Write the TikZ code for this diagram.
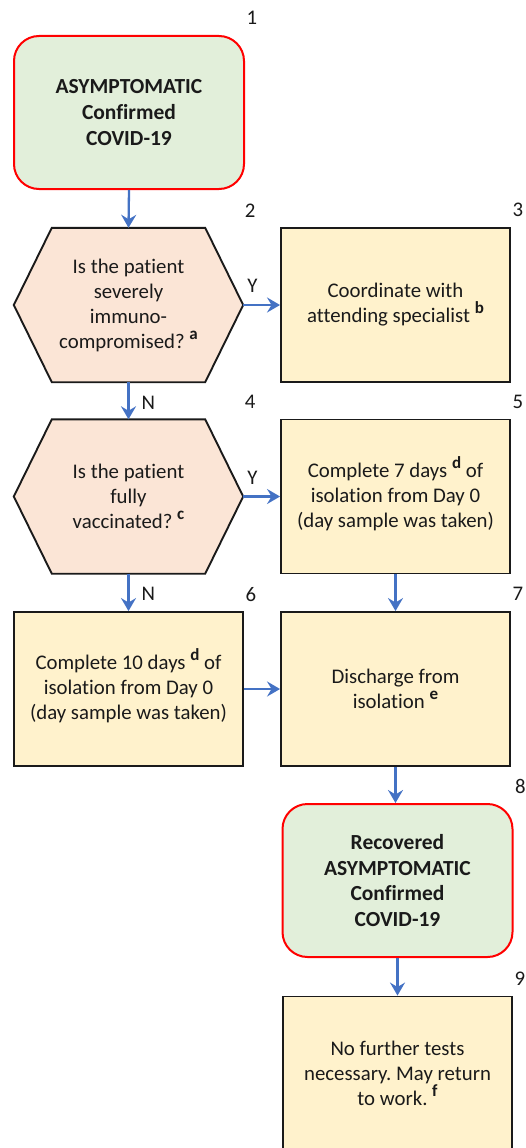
\documentclass[tikz,border=0pt]{standalone}
\usepackage{fontspec}
\setmainfont{Carlito}[Ligatures={NoCommon}]
\usetikzlibrary{arrows.meta,calc,backgrounds}
\definecolor{arrblue}{HTML}{4472C4}
\definecolor{startfill}{HTML}{E2EFDA}
\definecolor{askfill}{HTML}{FBE5D6}
\definecolor{stepfill}{HTML}{FFF2CC}
\definecolor{ink}{HTML}{1A1A1A}
\frenchspacing
% raised bold note letter
\newcommand\fnmark[1]{\smash{\raisebox{9pt}{\fontsize{17}{17}\selectfont\bfseries #1}}}

\begin{document}
\begin{tikzpicture}[x=1pt,y=-1pt,
  every node/.style={font=\fontsize{20.8}{25}\selectfont, text=ink},
  terminal/.style={draw=red, line width=2pt, fill=startfill, rounded corners=25pt,
    minimum width=230pt, minimum height=153pt, align=center,
    font=\fontsize{21.5}{25.7}\selectfont\bfseries},
  stepbox/.style={draw=ink, line width=1.9pt, fill=stepfill,
    minimum width=229pt, minimum height=154pt, align=center},
  askbox/.style={minimum width=229pt, minimum height=154pt, align=center, inner sep=0pt},
  hexline/.style={draw=ink, line width=1.9pt, fill=askfill},
  arr/.style={draw=arrblue, line width=2.3pt, -{Stealth[length=13pt,width=15pt,inset=4.5pt]}},
  numlab/.style={inner sep=0pt},
  yn/.style={inner sep=0pt},
]
\useasboundingbox (0,0) rectangle (526,1148);
\clip (0,0) rectangle (526,1148);

% boxes
\node[terminal] (n1) at (129,112.5) {ASYMPTOMATIC\\Confirmed\\COVID-19};
\node[askbox] (n2) at (128.5,305) {Is the patient\\severely\\immuno-\\compromised? \fnmark{a}};
\node[stepbox] (n3) at (395.5,305) {Coordinate with\\attending specialist \fnmark{b}};
\node[askbox] (n4) at (128.5,496.5) {Is the patient\\fully\\vaccinated? \fnmark{c}};
\node[stepbox] (n5) at (395.5,496.5) {Complete 7 days \fnmark{d} of\\isolation from Day 0\\(day sample was taken)};
\node[stepbox] (n6) at (128.5,689) {Complete 10 days \fnmark{d} of\\isolation from Day 0\\(day sample was taken)};
\node[stepbox] (n7) at (395.5,689) {Discharge from\\isolation \fnmark{e}};
\node[terminal] (n8) at (397.5,880.5) {Recovered\\ASYMPTOMATIC\\Confirmed\\COVID-19};
\node[stepbox] (n9) at (397.5,1073.5) {No further tests\\necessary. May return\\to work. \fnmark{f}};

% hexagonal decision outlines
\begin{scope}[on background layer]
\foreach \q in {n2,n4}{
  \draw[hexline] (\q.west) -- ($(\q.north west)+(38,0)$) -- ($(\q.north east)+(-38,0)$)
    -- (\q.east) -- ($(\q.south east)+(-38,0)$) -- ($(\q.south west)+(38,0)$) -- cycle;
}
\end{scope}

% step numbers
\foreach \q/\t in {n1/1,n2/2,n3/3,n4/4,n5/5,n6/6,n7/7,n8/8,n9/9}{
  \node[numlab] (num\t) at ($(\q.north east)+(7,-17)$) {\t};
}

% connectors
\draw[arr] (n1.south) -- (n2.north);
\draw[arr] (n2.east) -- node[yn, pos=0.25, above=11pt] (y1) {Y} (n3.west);
\draw[arr] (n2.south) -- node[yn, pos=0.55, right=12pt] (no1) {N} (n4.north);
\draw[arr] (n4.east) -- node[yn, pos=0.25, above=11pt] (y2) {Y} (n5.west);
\draw[arr] (n4.south) -- node[yn, pos=0.55, right=12pt] (no2) {N} (n6.north);
\draw[arr] (n5.south) -- (n7.north);
\draw[arr] (n6.east) -- (n7.west);
\draw[arr] (n7.south) -- (n7.south |- n8.north);
\draw[arr] (n8.south) -- (n8.south |- n9.north);
\end{tikzpicture}
\end{document}
